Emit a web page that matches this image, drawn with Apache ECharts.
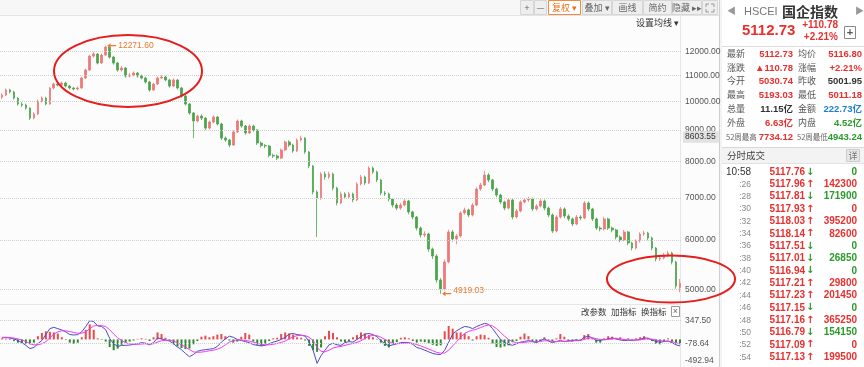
<!DOCTYPE html>
<html><head><meta charset="utf-8">
<script src="https://cdn.jsdelivr.net/npm/echarts@6.0.0/dist/echarts.min.js"></script>
<style>html,body{margin:0;padding:0;background:#fcfcfc}#c{width:864px;height:367px}</style>
</head><body><div id="c"></div>
<script>
// ---------- data ----------
const opens = [10150,10229,10421,10344,10114,9896,9859,9748,9395,9538,
10007,10114,9896,10498,10653,10613,10693,10573,10498,10459,
10498,10892,11217,11808,11897,11510,11853,12208,11764,11510,
11217,11300,10969,11011,11093,10969,10892,10732,10421,10653,
10892,10931,10812,10573,10812,10498,10191,9896,9573,9296,
9466,9395,9055,9261,9431,9193,8728,8667,8508,8927,
9296,9124,8894,9124,8993,8571,8490,8476,8190,8170,
8108,8354,8603,8508,8323,8667,8728,8293,7874,7156,
6997,7646,7560,7646,7260,6871,7103,7023,7103,6948,
7370,7560,7397,7817,7703,7480,7129,7103,6970,6820,
6743,6820,6922,6648,6525,6265,6107,6130,5797,5651,
5174,5005,5529,6175,6018,6084,6623,6697,6574,6820,
7236,7342,7617,7480,7236,7076,6897,6743,6948,6525,
6672,6897,6948,6974,6722,6795,6922,6743,6574,6198,
6525,6722,6550,6479,6360,6525,6502,6871,6722,6479,
6265,6244,6479,6265,6221,6061,5996,6175,5930,5820,
5974,6129,6152,6040,5820,5590,5611,5673,5715,5529,
5030.74];
const closes = [10229,10421,10344,10114,9896,9859,9748,9395,9538,10007,
10114,9896,10498,10653,10613,10693,10573,10498,10459,10498,
10892,11217,11808,11897,11510,11853,12208,11764,11510,11217,
11300,10969,11011,11093,10969,10892,10732,10421,10653,10892,
10931,10812,10573,10812,10498,10191,9896,9573,9296,9466,
9395,9055,9261,9431,9193,8728,8667,8508,8927,9296,
9124,8894,9124,8993,8571,8490,8476,8190,8170,8108,
8354,8603,8508,8323,8667,8728,8293,7874,7156,6997,
7646,7560,7646,7260,6871,7103,7023,7103,6948,7370,
7560,7397,7817,7703,7480,7129,7103,6970,6820,6743,
6820,6922,6648,6525,6265,6107,6130,5797,5651,5174,
5005,5529,6175,6018,6084,6623,6697,6574,6820,7236,
7342,7617,7480,7236,7076,6897,6743,6948,6525,6672,
6897,6948,6974,6722,6795,6922,6743,6574,6198,6525,
6722,6550,6479,6360,6525,6502,6871,6722,6479,6265,
6244,6479,6265,6221,6061,5996,6175,5930,5820,5974,
6129,6152,6040,5820,5590,5611,5673,5715,5529,5060,
5112.73];
const lows = [10080,10190,10290,10060,9840,9790,9690,9330,9350,9500,
9960,9850,9870,10450,10560,10580,10520,10450,10400,10410,
10470,10860,11180,11740,11450,11480,11820,11700,11440,11150,
11160,10900,10920,10960,10910,10840,10670,10360,10390,10620,
10850,10760,10510,10540,10440,10130,9840,9510,8728,9250,
9330,8990,9010,9220,9140,8670,8610,8440,8480,8900,
9070,8840,8860,8940,8510,8430,8410,8130,8110,8050,
8080,8320,8450,8270,8290,8620,8240,7810,7090,6061,
6950,7490,7510,7200,6810,6840,6970,6980,6890,6920,
7330,7340,7370,7650,7420,7070,7050,6910,6760,6690,
6700,6780,6590,6470,6210,6050,6060,5740,5590,5120,
4919.03,4980,5500,5960,5900,6050,6580,6520,6540,6790,
7190,7310,7420,7180,7020,6840,6690,6710,6470,6490,
6640,6860,6900,6670,6680,6760,6690,6520,6150,6170,
6490,6500,6430,6310,6330,6450,6470,6670,6430,6220,
6190,6210,6220,6170,6010,5950,5970,5880,5770,5790,
5940,6090,5990,5770,5540,5550,5580,5640,5480,5010,
4943.24];
const highs = [10300,10480,10470,10390,10150,9960,9910,9780,9600,10060,
10180,10160,10540,10710,10700,10750,10740,10620,10540,10560,
10940,11280,11870,11990,11940,11920,12271.6,12240,11820,11560,
11380,11340,11090,11160,11140,11030,10940,10780,10700,10950,
11000,10980,10860,10880,10850,10540,10230,9930,9610,9520,
9530,9430,9310,9490,9470,9230,8780,8700,8980,9350,
9340,9160,9180,9170,9020,8620,8540,8510,8240,8220,
8400,8650,8660,8550,8720,8800,8760,8320,7900,7200,
7700,7720,7710,7680,7290,7160,7150,7160,7140,7420,
7620,7600,7870,7860,7740,7510,7180,7140,7000,6870,
6870,6970,6950,6680,6550,6300,6190,6160,5830,5690,
5210,5580,6230,6220,6130,6670,6750,6730,6870,7280,
7400,7734.12,7670,7510,7270,7110,6930,7000,6980,6720,
6940,7000,7030,7010,6840,6970,6960,6780,6610,6570,
6770,6760,6590,6510,6570,6570,6920,6910,6750,6510,
6310,6530,6510,6300,6250,6100,6220,6200,5960,6010,
6170,6200,6180,6070,5840,5660,5720,5760,5740,5550,
5193.03];
const difValues = [30,35,25,10,-20,-60,-110,-170,-150,-80,
-20,90,200,224,200,175,140,90,82,90,
140,240,347,330,250,240,180,20,-80,-130,
-110,-110,-104,-90,-80,-60,-70,-100,-60,30,
10,-10,-30,-80,-140,-190,-260,-320,-280,-220,
-200,-190,-180,-170,-130,-50,10,60,40,0,
-20,-40,-60,-95,-110,-120,-110,-80,-50,-30,
0,40,100,110,90,80,60,-40,-200,-444,
-300,-200,-100,-70,-100,-110,-60,-40,-50,0,
50,100,110,90,50,-20,-80,-120,-100,-80,
-60,-55,-60,-90,-150,-170,-200,-230,-260,-276,
-280,-200,-50,100,160,205,240,230,200,240,
270,298,280,200,100,0,-60,-90,-110,-80,
-50,-40,-20,-40,-60,-20,10,-30,-60,-40,
-20,-40,-30,-20,-10,-20,40,60,30,-20,
-15,-5,10,30,10,-10,-20,-15,-20,-10,
0,30,20,-10,-40,-50,-40,-30,-60,-100,
-120];
const deaValues = [40,40,35,25,10,-10,-40,-80,-100,-100,
-80,-40,30,100,140,160,160,145,130,115,
115,140,200,250,260,255,240,180,100,30,
-20,-60,-80,-90,-90,-85,-80,-85,-80,-50,
-25,-15,-15,-30,-60,-100,-140,-190,-230,-240,
-235,-225,-210,-200,-180,-150,-100,-50,-20,-10,
-10,-20,-30,-50,-70,-90,-100,-100,-90,-75,
-55,-30,10,50,70,75,72,40,-20,-150,
-220,-230,-200,-160,-140,-130,-110,-90,-75,-55,
-25,20,60,75,70,40,0,-40,-70,-80,
-75,-70,-65,-72,-95,-120,-150,-180,-210,-240,
-255,-250,-200,-120,-40,40,110,150,170,190,
220,250,265,250,200,130,60,0,-40,-60,
-60,-55,-45,-40,-45,-40,-25,-25,-35,-40,
-35,-35,-32,-28,-22,-20,0,25,30,15,
0,-5,0,10,15,8,0,-8,-12,-12,
-8,5,12,5,-10,-25,-32,-32,-40,-60,
-80];
const macdHist = [20,15,-10,-30,-60,-70,-80,-90,-60,60,
120,150,140,130,110,40,-10,-60,-80,-60,
40,180,280,180,20,-10,-40,-140,-200,-170,
-100,-60,-40,-20,10,20,10,-30,40,130,
100,30,-30,-90,-130,-160,-180,-170,-90,-30,
50,70,40,60,90,100,60,-20,-60,-40,
50,120,90,-40,-100,-120,-80,-30,20,30,
100,130,110,90,40,30,-20,-120,-200,-230,
-150,60,160,120,40,-40,-50,-30,40,80,
130,110,80,40,10,-60,-120,-150,-90,-50,
30,40,20,-30,-60,-40,-50,-70,-100,-120,
-110,150,250,200,130,130,110,60,-20,60,
90,80,30,-80,-140,-150,-130,-110,-50,-30,
50,110,60,-40,-60,-30,40,-20,-40,20,
100,50,-30,-40,-30,-20,80,100,20,-60,
-60,20,60,50,30,40,-10,20,-15,20,
40,60,30,-30,-80,-90,-40,20,-40,-80,
-90];
const categories = closes.map((_, i) => 'K' + (i + 1));
const priceTicks = [5000, 6000, 7000, 8000, 9000, 10000, 11000, 12000];
const cursorPrice = 8603.55;
const macdTicks = [347.50, -78.64, -492.94];

const quoteLabelsA = ['最新','涨跌','今开','最高','总量','外盘'];
const quoteValuesA = ['5112.73','▲110.78','5030.74','5193.03','11.15亿','6.63亿'];
const quoteColorsA = ['#e8312f','#e8312f','#e8312f','#e8312f','#333333','#e8312f'];
const quoteLabelsB = ['均价','涨幅','昨收','最低','金额','内盘'];
const quoteValuesB = ['5116.80','+2.21%','5001.95','5011.18','222.73亿','4.52亿'];
const quoteColorsB = ['#e8312f','#e8312f','#333333','#e8312f','#1c7ed6','#2b9a2b'];

const tradeTimes = ['10:58',':26',':28',':30',':32',':34',':36',':38',':40',':42',':44',':46',':48',':50',':52',':54'];
const tradePrices = ['5117.76','5117.96','5117.81','5117.93','5118.03','5118.14','5117.51','5117.01','5116.94','5117.21','5117.23','5117.15','5117.16','5116.79','5117.09','5117.13'];
const tradeDirs = ['↓','↑','↓','↑','↑','↑','↓','↓','↓','↑','↑','↓','↑','↓','↑','↑'];
const tradeVols = ['0','142300','171900','0','395200','82600','0','26850','0','29800','201450','0','365250','154150','0','199500'];

// ---------- build ----------
const RED = '#e8312f', GREEN = '#2b9a2b';
const NUM = 'Arial, "Liberation Sans", "Noto Sans CJK SC", sans-serif';
const CJK = '"Noto Sans CJK SC", "Liberation Sans", sans-serif';
const kData = opens.map((o, i) => [o, closes[i], lows[i], highs[i]]);

function T(x, y, s, fill, font, align, z) {
  return { type: 'text', x: x, y: y, silent: true, z: z || 10,
    style: { text: s, fill: fill, font: font, textAlign: align || 'left', align: align || 'left',
             textVerticalAlign: 'middle', verticalAlign: 'middle' } };
}
function R(x, y, w, h, fill, stroke, z) {
  return { type: 'rect', silent: true, z: z || 5, shape: { x: x, y: y, width: w, height: h },
    style: { fill: fill, stroke: stroke || null, lineWidth: 1 } };
}
function L(x1, y1, x2, y2, stroke, w, z) {
  return { type: 'line', silent: true, z: z || 6, shape: { x1: x1, y1: y1, x2: x2, y2: y2 },
    style: { stroke: stroke, lineWidth: w || 1 } };
}

const g = [];
// toolbar strip
g.push(R(0, 0, 719, 15, '#f7f7f7', null, 1));
g.push(L(0, 15.5, 719, 15.5, '#e4e4e4', 1, 2));
const btns = [['+',520,534],['—',534,547],['复权 ▾',548,581,true],['叠加 ▾',582,612],['画线',612,643],['简约',643,672],['隐藏 ▸▸',672,702],['',702,718]];
btns.forEach(b => {
  g.push(R(b[1] + 0.5, 0.5, b[2] - b[1] - 1, 14, b[3] ? '#ffffff' : '#eeeeee', b[3] ? '#f08a3c' : '#d6d6d6', 7));
  if (b[0]) g.push(T((b[1] + b[2]) / 2, 8, b[0], b[3] ? '#e8701a' : '#666', '9px ' + CJK, 'center', 8));
});
// fullscreen corners
[[706,4,1,1],[714,4,-1,1],[706,12,1,-1],[714,12,-1,-1]].forEach(c => {
  g.push({ type: 'polyline', silent: true, z: 8, shape: { points: [[c[0], c[1] + 3 * c[3]], [c[0], c[1]], [c[0] + 3 * c[2], c[1]]] }, style: { stroke: '#999', lineWidth: 1, fill: null } });
});
g.push(T(636, 23, '设置均线 ▾', '#333', '9px ' + CJK, 'left'));
// panel borders
g.push(L(680.5, 16, 680.5, 367, '#e6e6e6', 1, 2));
g.push(L(0, 304.5, 680, 304.5, '#e6e6e6', 1, 2));
g.push(R(719, 0, 145, 367, '#ffffff', null, 1));
g.push(L(719.5, 0, 719.5, 367, '#cfcfcf', 1, 3));
g.push(L(721, 0, 721, 367, '#e8e8e8', 1, 3));
// MACD toolbar
g.push(T(581, 312, '改参数', '#333', '8.5px ' + CJK));
g.push(T(611, 312, '加指标', '#333', '8.5px ' + CJK));
g.push(T(641, 312, '换指标', '#333', '8.5px ' + CJK));
g.push(R(671.5, 306.5, 8, 10, '#fff', '#999', 7));
g.push(T(675.5, 311.5, '×', '#666', '9px ' + NUM, 'center', 8));
// right panel header
g.push(T(727, 12, '◀', '#999', '9px ' + NUM));
g.push(T(744, 12, 'HSCEI', '#777', '11px ' + NUM));
g.push(T(782, 12, '国企指数', '#333', 'bold 14px ' + CJK));
g.push(T(855, 12, '▶', '#999', '9px ' + NUM));
g.push(T(742, 31, '5112.73', RED, 'bold 15px ' + NUM));
g.push(T(838, 25, '+110.78', RED, 'bold 10px ' + NUM, 'right'));
g.push(T(838, 37, '+2.21%', RED, 'bold 10px ' + NUM, 'right'));
g.push(R(844.5, 26.5, 11, 12, '#fff', '#888', 7));
g.push(T(850, 32.5, '+', '#555', 'bold 11px ' + NUM, 'center', 8));
g.push(L(722, 46.5, 864, 46.5, '#dddddd', 1, 4));
const qy = [54, 68, 81, 95, 109, 123];
qy.forEach((y, i) => {
  g.push(T(727, y, quoteLabelsA[i], '#555', '9px ' + CJK));
  g.push(T(793, y, quoteValuesA[i], quoteColorsA[i], 'bold 9.5px ' + NUM, 'right'));
  g.push(T(798, y, quoteLabelsB[i], '#555', '9px ' + CJK));
  g.push(T(862, y, quoteValuesB[i], quoteColorsB[i], 'bold 9.5px ' + NUM, 'right'));
});
g.push(T(726, 137, '52周最高', '#666', '7.5px ' + CJK));
g.push(T(793, 137, '7734.12', RED, 'bold 9.5px ' + NUM, 'right'));
g.push(T(797, 137, '52周最低', '#666', '7.5px ' + CJK));
g.push(T(862, 137, '4943.24', GREEN, 'bold 9.5px ' + NUM, 'right'));
g.push(R(722, 147, 142, 16, '#f3f3f3', null, 4));
g.push(L(722, 147.5, 864, 147.5, '#d8d8d8', 1, 5));
g.push(L(722, 163.5, 864, 163.5, '#e2e2e2', 1, 5));
g.push(T(727, 155.5, '分时成交', '#444', '9.5px ' + CJK));
g.push(R(846.5, 149.5, 13, 12, '#e6e6e6', '#cccccc', 6));
g.push(T(853, 155.5, '详', '#777', '9px ' + CJK, 'center', 7));
tradeTimes.forEach((t, i) => {
  const y = 172 + i * 12.35;
  const up = tradeDirs[i] === '↑';
  g.push(T(751, y, t, i === 0 ? '#333' : '#888', (i === 0 ? '10px ' : '8.5px ') + NUM, 'right'));
  g.push(T(805, y, tradePrices[i], RED, 'bold 10px ' + NUM, 'right'));
  g.push(T(806, y, tradeDirs[i], up ? RED : GREEN, 'bold 10px "DejaVu Sans", sans-serif'));
  g.push(T(857, y, tradeVols[i], up ? RED : GREEN, 'bold 10px ' + NUM, 'right'));
});
// hand-drawn highlight ellipses
g.push({ type: 'ellipse', silent: true, z: 100, shape: { cx: 128, cy: 71, rx: 74, ry: 36 }, style: { fill: null, stroke: '#e61e1e', lineWidth: 2 } });
g.push({ type: 'ellipse', silent: true, z: 100, shape: { cx: 671, cy: 279, rx: 64, ry: 23.5 }, style: { fill: null, stroke: '#e61e1e', lineWidth: 2 } });

const HIDDEN = { color: 'rgba(0,0,0,0)', width: 0 };
const priceLines = priceTicks.map(v => ({ yAxis: v }));
priceLines.push({ yAxis: cursorPrice, lineStyle: HIDDEN,
  label: { backgroundColor: '#e2e2e2', padding: [2, 3, 1, 2], offset: [-2, -5], color: '#333' } });

const macdLines = [
  { yAxis: macdTicks[0] },
  { yAxis: macdTicks[1] },
  { yAxis: macdTicks[2], lineStyle: HIDDEN, label: { offset: [0, -5] } }
];

const arrowPath = 'path://M0,3L5,0L5,2.2L14,2.2L14,3.8L5,3.8L5,6Z';

const option = {
  animation: false,
  backgroundColor: '#fcfcfc',
  grid: [
    { left: -2, width: 684, top: 16, height: 287 },
    { left: -2, width: 684, top: 320.7, height: 45.3 }
  ],
  xAxis: [
    { type: 'category', data: categories, gridIndex: 0, boundaryGap: true, show: false },
    { type: 'category', data: categories, gridIndex: 1, boundaryGap: true, show: false }
  ],
  yAxis: [
    { type: 'log', logBase: 10, gridIndex: 0, min: 4753, max: 13688, show: false, splitLine: { show: false } },
    { type: 'value', gridIndex: 1, min: -492.94, max: 347.5, show: false, splitLine: { show: false } }
  ],
  graphic: { elements: g },
  series: [
    {
      type: 'candlestick', xAxisIndex: 0, yAxisIndex: 0, data: kData, barWidth: 2.2,
      itemStyle: { color: '#f07878', color0: '#4ea44e', borderColor: '#f07878', borderColor0: '#4ea44e', borderWidth: 0.8 },
      markLine: {
        silent: true, symbol: ['none', 'none'], animation: false,
        lineStyle: { type: 'dotted', color: '#cfcfcf', width: 1 },
        label: { position: 'end', distance: 3, color: '#555', fontSize: 8.5, fontFamily: NUM,
                 formatter: p => Number(p.value).toFixed(2) },
        data: priceLines
      },
      markPoint: {
        silent: true, animation: false,
        symbol: arrowPath, symbolSize: [9, 5], symbolOffset: [6, 0], symbolKeepAspect: false,
        itemStyle: { color: '#ec7a2c' },
        label: { show: true, position: 'right', distance: 2, color: '#ec7a2c', fontSize: 8.5, fontFamily: NUM,
                 formatter: p => Number(p.value).toFixed(2) },
        data: [
          { type: 'max', valueDim: 'highest' },
          { type: 'min', valueDim: 'lowest', label: { offset: [0, -3] } }
        ]
      }
    },
    {
      type: 'bar', xAxisIndex: 1, yAxisIndex: 1, data: macdHist, barWidth: 2,
      itemStyle: { color: p => p.value >= 0 ? '#e84a4a' : '#2f8a2f' },
      markLine: {
        silent: true, symbol: ['none', 'none'], animation: false,
        lineStyle: { type: 'dotted', color: '#cfcfcf', width: 1 },
        label: { position: 'end', distance: 3, color: '#555', fontSize: 8.5, fontFamily: NUM,
                 formatter: p => Number(p.value).toFixed(2) },
        data: macdLines
      }
    },
    { type: 'line', xAxisIndex: 1, yAxisIndex: 1, data: difValues, symbol: 'none', smooth: false,
      lineStyle: { color: '#4b4bc8', width: 1 } },
    { type: 'line', xAxisIndex: 1, yAxisIndex: 1, data: deaValues, symbol: 'none', smooth: false,
      lineStyle: { color: '#f23cf2', width: 1 } }
  ]
};
const chart = echarts.init(document.getElementById('c'), null, { renderer: 'canvas' });
chart.setOption(option);
</script>
</body></html>
